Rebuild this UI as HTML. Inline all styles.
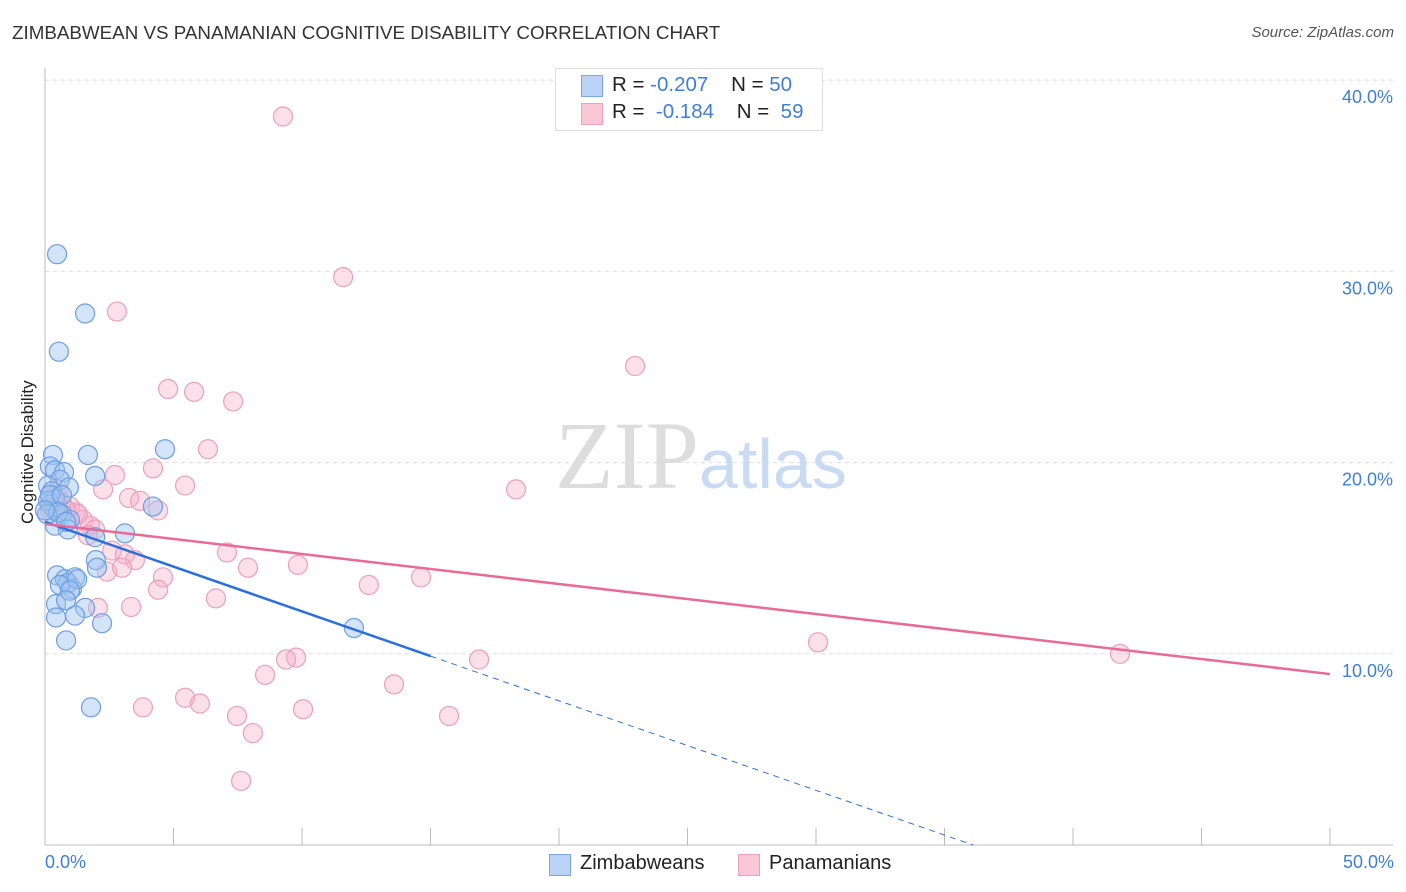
<!DOCTYPE html>
<html><head><meta charset="utf-8"><style>
body{margin:0;background:#fff;font-family:"Liberation Sans",sans-serif}
#wrap{position:relative;width:1406px;height:892px;overflow:hidden}
.t{position:absolute;white-space:nowrap}
</style></head><body><div id="wrap">
<div class="t" style="left:12px;top:22px;font-size:18.8px;color:#333">ZIMBABWEAN VS PANAMANIAN COGNITIVE DISABILITY CORRELATION CHART</div>
<div class="t" style="right:12px;top:24px;font-size:15px;color:#555;font-style:italic">Source: ZipAtlas.com</div>
<svg id="svg" width="1406" height="892" style="position:absolute;left:0;top:0"></svg>
<div class="t" style="left:-42px;top:444px;font-size:17px;color:#222;transform:rotate(-90deg);width:140px;text-align:center">Cognitive Disability</div>
<div class="t" style="left:45px;top:852px;font-size:18px;color:#3f7fd6">0.0%</div>
<div class="t" style="right:12px;top:852px;font-size:18px;color:#3f7fd6">50.0%</div>
<div style="position:absolute;left:555px;top:68px;width:266px;height:61px;border:1px solid #ddd;background:#fff"></div>
<div style="position:absolute;left:581px;top:75px;width:20px;height:20px;background:#b9d3f7;border:1px solid #7aa6e6"></div>
<div style="position:absolute;left:581px;top:103px;width:20px;height:20px;background:#fac7d7;border:1px solid #eca2bc"></div>
<div class="t" style="left:612px;top:73px;font-size:20.5px;color:#222">R = <span style="color:#3f7fd6">-0.207</span>&nbsp;&nbsp;&nbsp; N = <span style="color:#3f7fd6">50</span></div>
<div class="t" style="left:612px;top:100px;font-size:20.5px;color:#222">R = &nbsp;<span style="color:#3f7fd6">-0.184</span>&nbsp;&nbsp;&nbsp; N = &nbsp;<span style="color:#3f7fd6">59</span></div>
<div style="position:absolute;left:549px;top:854px;width:20px;height:20px;background:#b9d3f7;border:1px solid #7aa6e6"></div>
<div class="t" style="left:580px;top:852px;font-size:20px;color:#222">Zimbabweans</div>
<div style="position:absolute;left:738px;top:854px;width:20px;height:20px;background:#fac7d7;border:1px solid #eca2bc"></div>
<div class="t" style="left:769px;top:852px;font-size:20px;color:#222">Panamanians</div>
<div class="t" style="left:555px;top:400px;font-size:96px;color:#ddd;font-family:'Liberation Serif',serif">ZIP<span style="font-family:'Liberation Sans',sans-serif;color:#c9dbf2;font-size:70px">atlas</span></div>
</div>
<script>
const yTicks=[10,20,30,40];
const tickLabels=["10.0%","20.0%","30.0%","40.0%"];
const blueX=[.47,1.56,.54,4.67,1.67,.31,.19,.39,.74,1.95,.58,.93,.12,.27,.39,.19,.39,.66,.97,.39,.89,3.11,1.95,4.2,1.98,2.02,.47,.78,1.17,.89,1.05,.58,1.25,.97,.43,.82,1.56,1.17,.43,2.22,.82,1.79,12.02,.12,.08,.19,.66,.51,.82,0];
const blueY=[30.9,27.8,25.8,20.7,20.4,20.4,19.8,19.6,19.5,19.3,19.1,18.7,18.8,18.5,18.1,17.8,17.5,17.3,17.0,16.7,16.5,16.3,16.1,17.7,14.9,14.5,14.1,13.9,14.0,13.7,13.4,13.6,13.9,13.3,12.6,12.8,12.4,12.0,11.9,11.6,10.7,7.2,11.35,18.0,17.3,18.3,18.3,17.4,16.9,17.5];
const pinkX=[9.26,11.6,2.8,22.96,4.79,5.8,7.32,6.34,4.2,2.72,5.45,2.26,3.27,3.7,4.4,18.33,.39,.47,.66,.97,1.21,1.48,1.75,1.95,1.28,.82,.19,2.61,3.11,3.5,7.08,2.41,3.0,4.59,4.4,7.9,9.84,14.63,12.6,3.35,2.06,6.65,30.08,41.83,16.89,9.77,9.38,8.56,13.58,5.45,6.03,3.81,10.04,7.47,15.72,8.09,7.63,1.67,.51];
const pinkY=[38.1,29.7,27.9,25.05,23.85,23.7,23.2,20.7,19.7,19.35,18.8,18.6,18.15,18.0,17.5,18.6,18.3,18.0,17.9,17.7,17.4,17.0,16.7,16.5,17.3,17.5,17.5,15.4,15.2,14.9,15.3,14.3,14.5,14.0,13.35,14.5,14.65,14.0,13.6,12.45,12.4,12.9,10.6,10.0,9.7,9.8,9.7,8.9,8.4,7.7,7.4,7.2,7.1,6.75,6.75,5.85,3.35,16.2,18.6];
const blueTrend=[16.9,-0.468];
const pinkTrend=[16.79,-0.157];
const sx=v=>45+v*25.7, sy=v=>845-v*19.12;
const svg=document.getElementById('svg');const NS='http://www.w3.org/2000/svg';
function mk(tag,attrs){const e=document.createElementNS(NS,tag);for(const k in attrs)e.setAttribute(k,attrs[k]);svg.appendChild(e);return e;}
yTicks.forEach((t,i)=>{
 const g=mk('line',{x1:45,x2:1393,y1:sy(t),y2:sy(t),stroke:'#ddd','stroke-dasharray':'4,4'});
 
 
 const tx=mk('text',{x:1393,y:sy(t)+23,'text-anchor':'end','font-size':18,fill:'#3f7fd6','font-family':'Liberation Sans'});
 tx.textContent=tickLabels[i];
 
 
});
const ax=mk('line',{x1:45,x2:1393,y1:845,y2:845,stroke:'#bbb'});


const ay=mk('line',{x1:45,x2:45,y1:68,y2:845,stroke:'#bbb'});


for(let i=1;i<=10;i++){const tk=mk('line',{x1:sx(i*5),x2:sx(i*5),y1:828,y2:845,stroke:'#bbb'});
 
 }
pinkX.forEach((x,i)=>{const c=mk('circle',{cx:sx(x),cy:sy(pinkY[i]),r:9.5,fill:'rgba(246,176,200,0.4)',stroke:'#eba0bb','stroke-width':1.2});
 
 });
blueX.forEach((x,i)=>{const c=mk('circle',{cx:sx(x),cy:sy(blueY[i]),r:9.5,fill:'rgba(160,196,240,0.45)',stroke:'#6b9ee2','stroke-width':1.2});
 
 });
const bl=mk('line',{x1:sx(0),y1:sy(blueTrend[0]),x2:sx(15),y2:sy(blueTrend[0]+blueTrend[1]*15),stroke:'#2a6fdb','stroke-width':2.5});


const xz=-blueTrend[0]/blueTrend[1];
const bd=mk('line',{x1:sx(15),y1:sy(blueTrend[0]+blueTrend[1]*15),x2:sx(xz),y2:sy(0),stroke:'#2a6fdb','stroke-width':1,'stroke-dasharray':'6,5'});


const pl=mk('line',{x1:sx(0),y1:sy(pinkTrend[0]),x2:sx(50),y2:sy(pinkTrend[0]+pinkTrend[1]*50),stroke:'#e86a96','stroke-width':2.5});


</script></body></html>
